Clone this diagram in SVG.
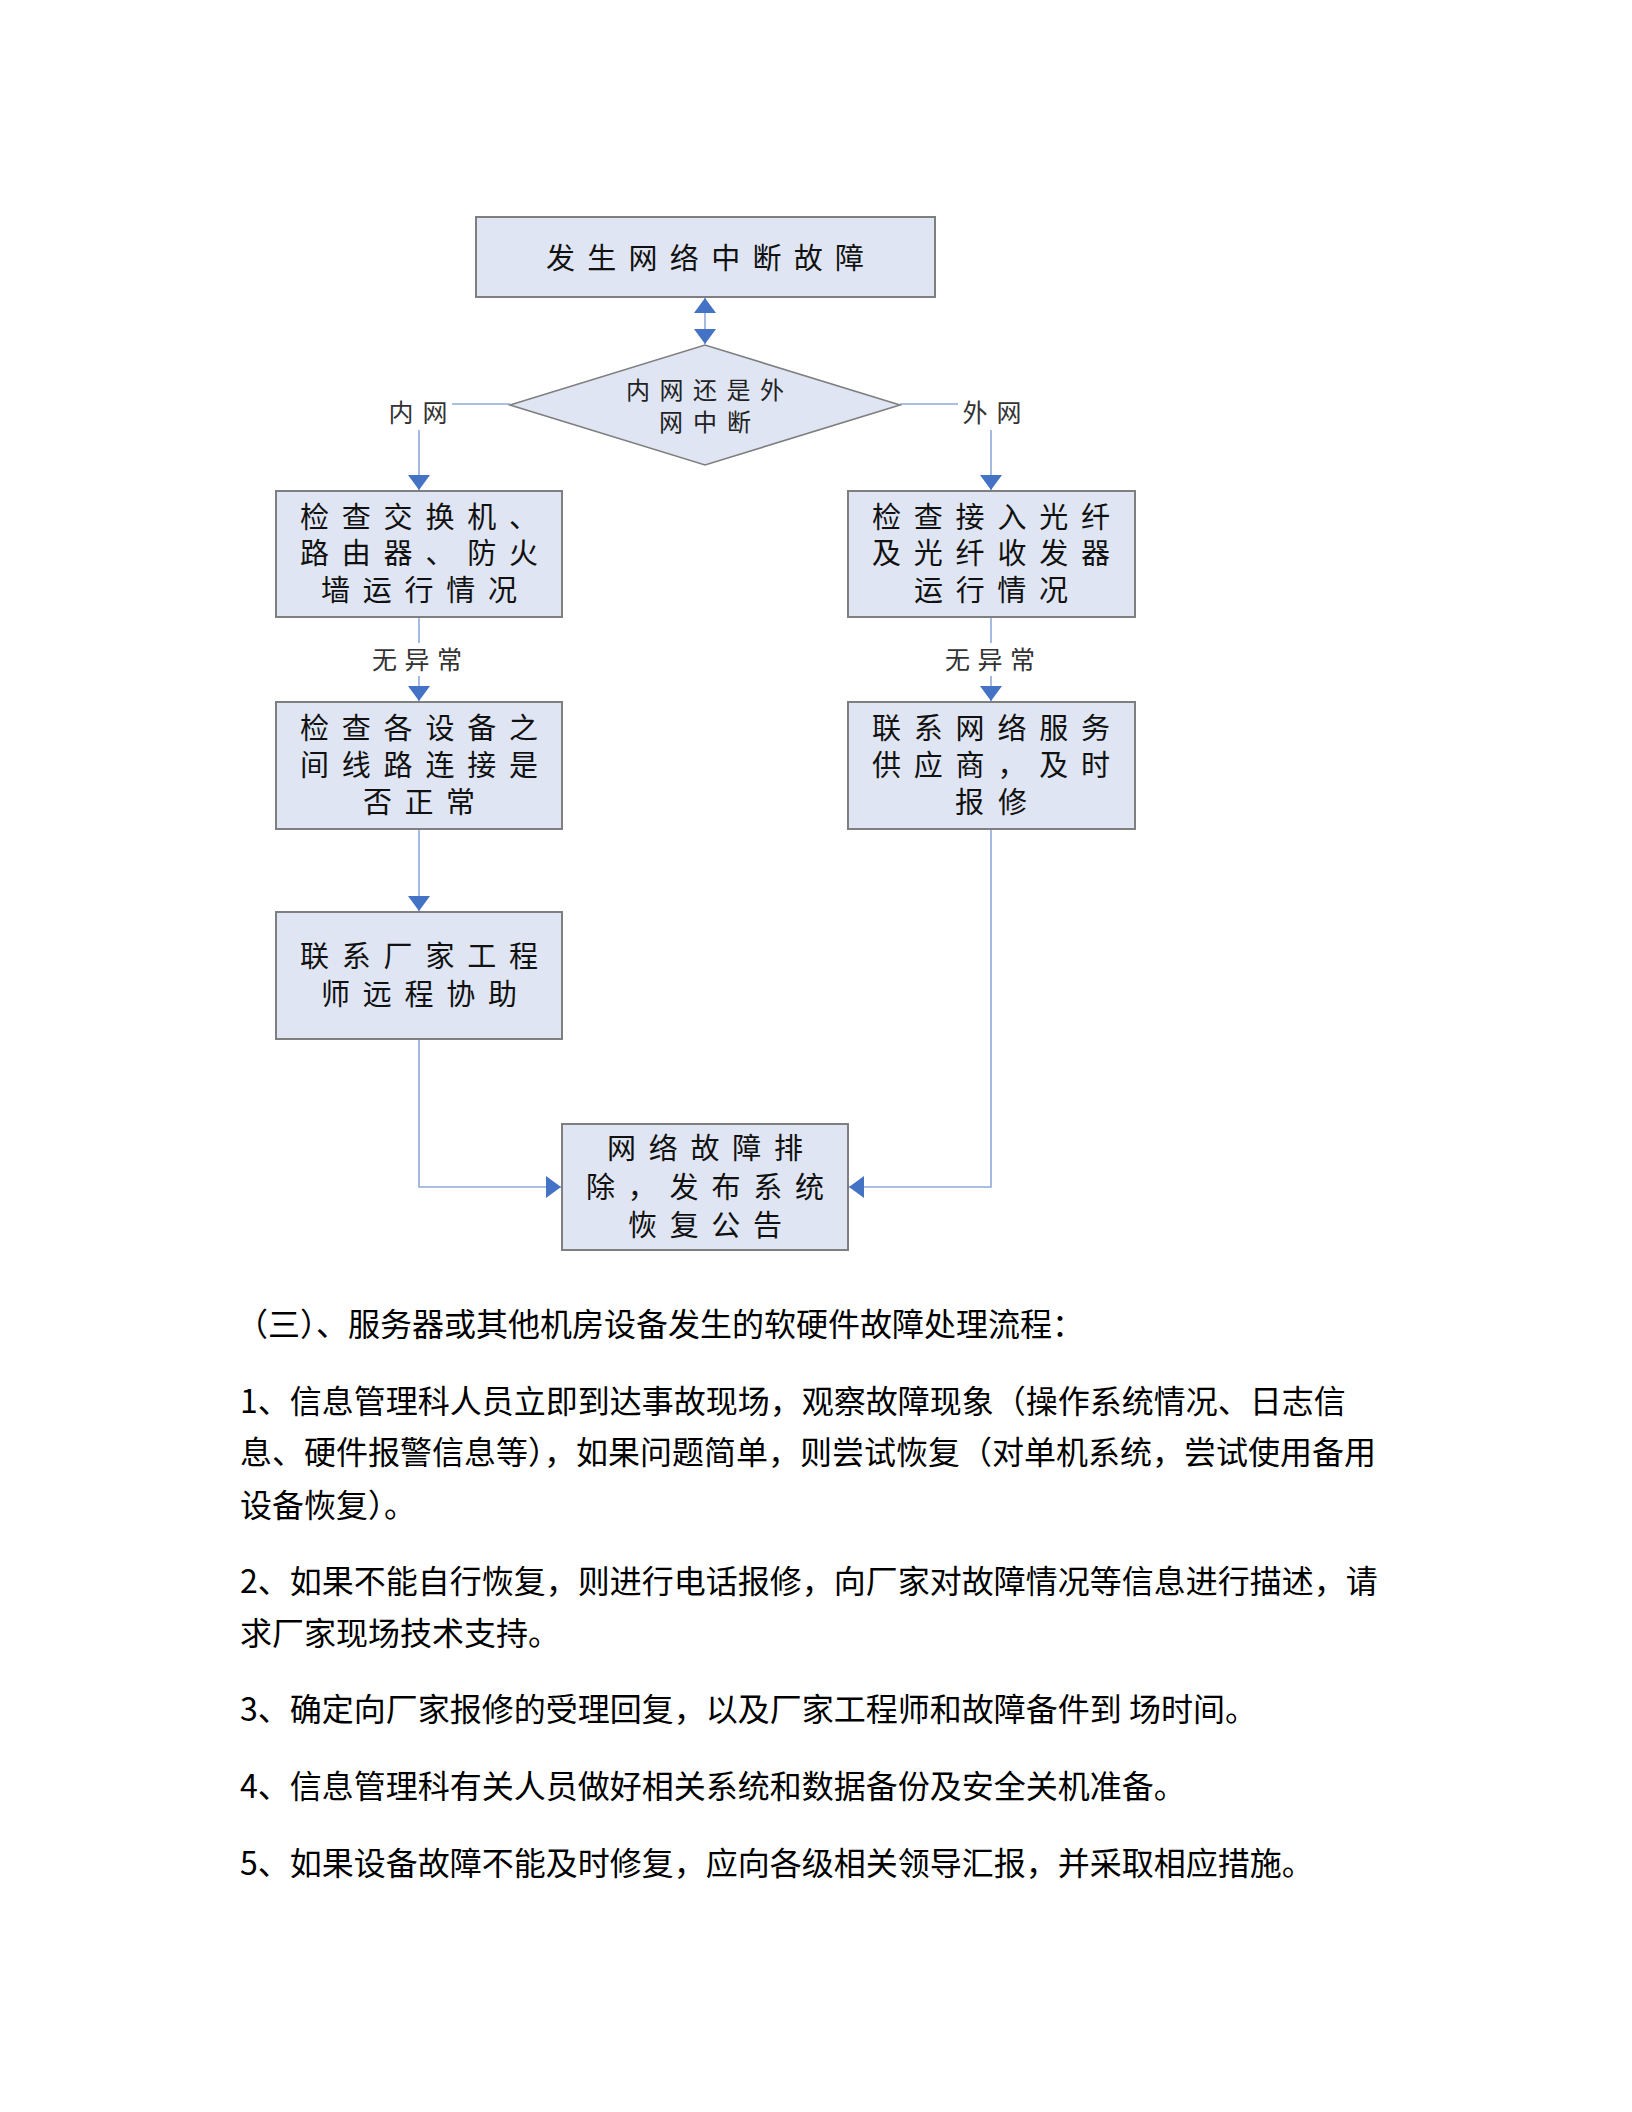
<svg xmlns="http://www.w3.org/2000/svg" width="1632" height="2112" viewBox="0 0 1632 2112">
<style>
.box{fill:#dfe5f2;stroke:#7f7f7f;stroke-width:2}
.bt{font-family:"Noto Sans CJK SC","Noto Sans CJK JP",sans-serif;font-size:29px;fill:#111;text-anchor:middle}
.dt{font-family:"Noto Sans CJK SC","Noto Sans CJK JP",sans-serif;font-size:24px;fill:#222;text-anchor:middle}
.lb{font-family:"Noto Sans CJK SC","Noto Sans CJK JP",sans-serif;font-size:25px;fill:#333;text-anchor:middle}
.conn{fill:none;stroke:#8eaadb;stroke-width:1.6}
.p{font-family:"Noto Sans CJK SC","Noto Sans CJK JP",sans-serif;font-size:32px;fill:#000}
</style>
<defs>
<marker id="arr" viewBox="0 0 15 22" refX="15" refY="11" markerWidth="15" markerHeight="22" markerUnits="userSpaceOnUse" orient="auto-start-reverse">
<path d="M0,0 L15,11 L0,22 z" fill="#4472c4"/>
</marker>
</defs>
<rect width="1632" height="2112" fill="#ffffff"/>

<g id="connectors">
<path class="conn" d="M705,298 V344" marker-start="url(#arr)" marker-end="url(#arr)"/>
<path class="conn" d="M510,404 H419 V490" marker-end="url(#arr)"/>
<path class="conn" d="M900,404 H991 V490" marker-end="url(#arr)"/>
<path class="conn" d="M419,618 V701" marker-end="url(#arr)"/>
<path class="conn" d="M991,618 V701" marker-end="url(#arr)"/>
<path class="conn" d="M419,830 V911" marker-end="url(#arr)"/>
<path class="conn" d="M419,1040 V1187 H561" marker-end="url(#arr)"/>
<path class="conn" d="M991,830 V1187 H849" marker-end="url(#arr)"/>
</g>

<g id="labels">
<rect x="384" y="396" width="68" height="34" fill="#fff"/>
<text class="lb" x="418" y="422" textLength="59" lengthAdjust="spacing">内网</text>
<rect x="958" y="396" width="68" height="34" fill="#fff"/>
<text class="lb" x="992" y="422" textLength="59" lengthAdjust="spacing">外网</text>
<rect x="370" y="643" width="96" height="33" fill="#fff"/>
<text class="lb" x="417" y="669" textLength="90" lengthAdjust="spacing">无异常</text>
<rect x="942" y="643" width="96" height="33" fill="#fff"/>
<text class="lb" x="990" y="669" textLength="90" lengthAdjust="spacing">无异常</text>
</g>

<g id="n-start">
<rect class="box" x="476" y="217" width="459" height="80"/>
<text class="bt" x="705" y="269" textLength="318" lengthAdjust="spacing">发生网络中断故障</text>
</g>

<g id="n-decision">
<polygon class="box" points="510,405 705,345 900,405 705,465" style="stroke-width:1.6"/>
<text class="dt" x="705" y="399" textLength="158" lengthAdjust="spacing">内网还是外</text>
<text class="dt" x="705" y="431" textLength="92" lengthAdjust="spacing">网中断</text>
</g>

<g id="n-left1">
<rect class="box" x="276" y="491" width="286" height="126"/>
<text class="bt" x="419" y="528" textLength="238" lengthAdjust="spacing">检查交换机、</text>
<text class="bt" x="419" y="564" textLength="238" lengthAdjust="spacing">路由器、防火</text>
<text class="bt" x="419" y="601" textLength="196" lengthAdjust="spacing">墙运行情况</text>
</g>

<g id="n-right1">
<rect class="box" x="848" y="491" width="287" height="126"/>
<text class="bt" x="991" y="528" textLength="238" lengthAdjust="spacing">检查接入光纤</text>
<text class="bt" x="991" y="564" textLength="238" lengthAdjust="spacing">及光纤收发器</text>
<text class="bt" x="991" y="601" textLength="154" lengthAdjust="spacing">运行情况</text>
</g>

<g id="n-left2">
<rect class="box" x="276" y="702" width="286" height="127"/>
<text class="bt" x="419" y="739" textLength="238" lengthAdjust="spacing">检查各设备之</text>
<text class="bt" x="419" y="776" textLength="238" lengthAdjust="spacing">间线路连接是</text>
<text class="bt" x="419" y="813" textLength="112" lengthAdjust="spacing">否正常</text>
</g>

<g id="n-right2">
<rect class="box" x="848" y="702" width="287" height="127"/>
<text class="bt" x="991" y="739" textLength="238" lengthAdjust="spacing">联系网络服务</text>
<text class="bt" x="991" y="776" textLength="238" lengthAdjust="spacing">供应商，及时</text>
<text class="bt" x="991" y="813" textLength="72" lengthAdjust="spacing">报修</text>
</g>

<g id="n-left3">
<rect class="box" x="276" y="912" width="286" height="127"/>
<text class="bt" x="419" y="967" textLength="238" lengthAdjust="spacing">联系厂家工程</text>
<text class="bt" x="419" y="1005" textLength="196" lengthAdjust="spacing">师远程协助</text>
</g>

<g id="n-end">
<rect class="box" x="562" y="1124" width="286" height="126"/>
<text class="bt" x="705" y="1159" textLength="196" lengthAdjust="spacing">网络故障排</text>
<text class="bt" x="705" y="1198" textLength="238" lengthAdjust="spacing">除，发布系统</text>
<text class="bt" x="705" y="1236" textLength="154" lengthAdjust="spacing">恢复公告</text>
</g>

<g id="body-text">
<text class="p" x="236" y="1336">（三）、服务器或其他机房设备发生的软硬件故障处理流程：</text>
<text class="p" x="240" y="1413">1、信息管理科人员立即到达事故现场，观察故障现象（操作系统情况、日志信</text>
<text class="p" x="240" y="1464">息、硬件报警信息等），如果问题简单，则尝试恢复（对单机系统，尝试使用备用</text>
<text class="p" x="240" y="1517">设备恢复）。</text>
<text class="p" x="240" y="1593">2、如果不能自行恢复，则进行电话报修，向厂家对故障情况等信息进行描述，请</text>
<text class="p" x="240" y="1645">求厂家现场技术支持。</text>
<text class="p" x="240" y="1721">3、确定向厂家报修的受理回复，以及厂家工程师和故障备件到 场时间。</text>
<text class="p" x="240" y="1798">4、信息管理科有关人员做好相关系统和数据备份及安全关机准备。</text>
<text class="p" x="240" y="1875">5、如果设备故障不能及时修复，应向各级相关领导汇报，并采取相应措施。</text>
</g>
</svg>
